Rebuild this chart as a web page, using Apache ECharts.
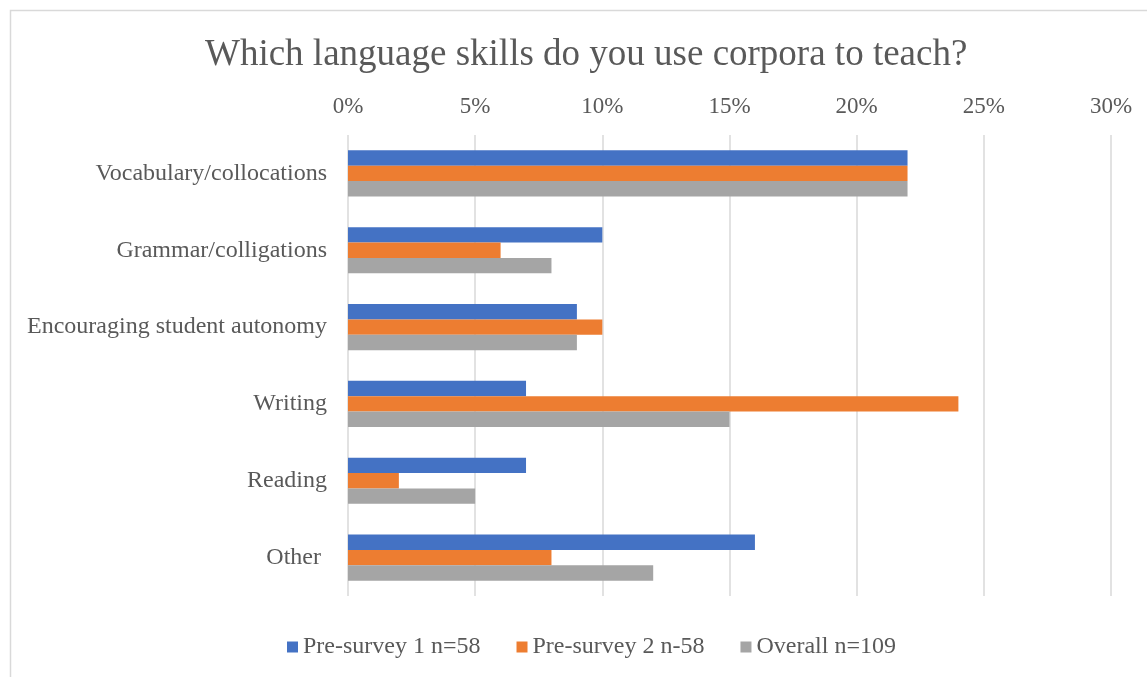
<!DOCTYPE html>
<html>
<head>
<meta charset="utf-8">
<script src="https://cdn.jsdelivr.net/npm/echarts@6/dist/echarts.min.js"></script>
<style>html,body{margin:0;padding:0;background:#fff;}#c{width:1147px;height:677px;}</style>
</head>
<body>
<div id="c"></div>
<script>
var categories = ["Vocabulary/collocations", "Grammar/colligations", "Encouraging student autonomy", "Writing", "Reading", "Other "];
var preSurvey1 = [22, 10, 9, 7, 7, 16];
var preSurvey2 = [22, 6, 10, 24, 2, 8];
var overall = [22, 8, 9, 15, 5, 12];
var seriesNames = ["Pre-survey 1 n=58", "Pre-survey 2 n-58", "Overall n=109"];
var colors = ["#4472C4", "#ED7D31", "#A5A5A5"];

var chart = echarts.init(document.getElementById('c'), null, {renderer: 'canvas'});
var font = '"Liberation Serif", "Times New Roman", serif';
function mk(name, data, color) {
  return {
    name: name, type: 'bar', data: data,
    barGap: '0%', barCategoryGap: '40%',
    itemStyle: {color: color},
    emphasis: {disabled: true}
  };
}
chart.setOption({
  animation: false,
  textStyle: {fontFamily: font},
  graphic: [{
    type: 'rect', shape: {x: 10.5, y: 10.5, width: 1200, height: 700},
    style: {fill: 'none', stroke: '#D9D9D9', lineWidth: 1.5}, silent: true
  }],
  title: {
    text: 'Which language skills do you use corpora to teach?',
    left: 200, top: 32,
    textStyle: {fontFamily: font, fontSize: 37, fontWeight: 'normal', color: '#595959'}
  },
  legend: {
    data: seriesNames, bottom: 13, left: 282,
    itemWidth: 11, itemHeight: 11, itemGap: 36, icon: 'rect',
    textStyle: {fontFamily: font, fontSize: 24, color: '#595959'}
  },
  grid: {left: 348, right: 36, top: 135, bottom: 81},
  xAxis: {
    type: 'value', position: 'top', min: 0, max: 30, interval: 5,
    axisLabel: {formatter: '{value}%', fontFamily: font, fontSize: 23, color: '#595959', margin: 17},
    axisLine: {show: false}, axisTick: {show: false},
    splitLine: {lineStyle: {color: '#D9D9D9', width: 1.5}}
  },
  yAxis: {
    type: 'category', data: categories, inverse: true,
    axisLabel: {fontFamily: font, fontSize: 24, color: '#595959', margin: 21},
    axisLine: {show: false}, axisTick: {show: false}
  },
  series: [mk(seriesNames[0], preSurvey1, colors[0]), mk(seriesNames[1], preSurvey2, colors[1]), mk(seriesNames[2], overall, colors[2])]
});
</script>
</body>
</html>
